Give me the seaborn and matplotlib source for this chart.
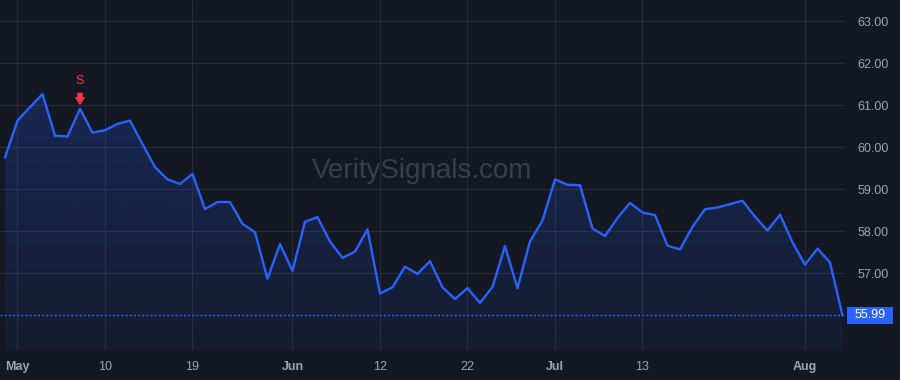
import numpy as np
import pandas as pd
import matplotlib
matplotlib.use('Agg')
import matplotlib.pyplot as plt
import seaborn as sns
from matplotlib.patches import Polygon, Rectangle
from matplotlib.colors import to_rgb

# trading days, Apr 28 - Aug 4 2023 (US market holidays skipped)
dates = pd.bdate_range("2023-04-28", "2023-08-04", freq="C",
                       holidays=["2023-05-29", "2023-06-19", "2023-07-04"])

close = [59.75, 60.63, 60.95, 61.26, 60.27, 60.25, 60.91, 60.34, 60.40, 60.55,
         60.63, 60.07, 59.52, 59.23, 59.12, 59.36, 58.52, 58.69, 58.69, 58.17,
         57.97, 56.86, 57.69, 57.05, 58.22, 58.33, 57.75, 57.36, 57.51, 58.04,
         56.51, 56.66, 57.15, 56.98, 57.28, 56.66, 56.38, 56.64, 56.29, 56.67,
         57.64, 56.64, 57.75, 58.25, 59.23, 59.10, 59.09, 58.06, 57.88, 58.31,
         58.67, 58.44, 58.38, 57.65, 57.56, 58.10, 58.52, 58.56, 58.64, 58.72,
         58.34, 58.01, 58.39, 57.73, 57.20, 57.58, 57.25, 55.99]

tick_dates = ["2023-05-01", "2023-05-10", "2023-05-19", "2023-06-01", "2023-06-12",
              "2023-06-22", "2023-07-03", "2023-07-13", "2023-08-01"]
tick_labels = ["May", "10", "19", "Jun", "12", "22", "Jul", "13", "Aug"]
price_ticks = [57, 58, 59, 60, 61, 62, 63]

signal_date = "2023-05-08"
signal_text = "S"

BG = '#141823'
GRID = '#272b37'
LINE = '#2962ff'
TXT = '#a0a3ab'
RED = '#f23645'

df = pd.DataFrame({'idx': np.arange(len(dates)), 'date': dates, 'close': close})

sns.set_style('dark', {'axes.facecolor': BG, 'figure.facecolor': BG})
plt.rcParams['font.family'] = ['Liberation Sans', 'DejaVu Sans']

fig = plt.figure(figsize=(9, 3.8), dpi=100)
ax = fig.add_axes([0, 30 / 380, 845 / 900, 350 / 380])
ax.set_facecolor(BG)

ymin, ymax = 55.167, 63.5
ax.set_ylim(ymin, ymax)
ax.set_xlim(-0.4, 67.2)

# gradient area under the line
verts = [(df['idx'].iloc[0], ymin)] + list(zip(df['idx'], df['close'])) + [(df['idx'].iloc[-1], ymin)]
poly = Polygon(verts, closed=True, facecolor='none', edgecolor='none')
ax.add_patch(poly)
r, g, b = to_rgb(LINE)
grad = np.zeros((100, 1, 4))
grad[:, 0, 0], grad[:, 0, 1], grad[:, 0, 2] = r, g, b
grad[:, 0, 3] = np.linspace(0.22, 0.06, 100)
im = ax.imshow(grad, aspect='auto', origin='upper',
               extent=[df['idx'].iloc[0], df['idx'].iloc[-1], ymin, max(close)],
               zorder=1)
im.set_clip_path(poly)

sns.lineplot(data=df, x='idx', y='close', color=LINE, linewidth=1.7, ax=ax, zorder=3)

last = close[-1]
ax.axhline(last, color=LINE, linestyle=(0, (1.5, 1.5)), linewidth=1, zorder=2)

# grid
tick_pos = [int(df.index[df['date'] == pd.Timestamp(d)][0]) for d in tick_dates]
for p in tick_pos:
    ax.axvline(p, color=GRID, linewidth=0.8, zorder=0)
for v in price_ticks:
    ax.axhline(v, color=GRID, linewidth=0.8, zorder=0)

ax.set_xticks(tick_pos)
ax.set_xticklabels(tick_labels)
for lab, txt in zip(ax.get_xticklabels(), tick_labels):
    lab.set_fontweight('normal' if txt.isdigit() else 'bold')
ax.yaxis.tick_right()
ax.set_yticks(price_ticks)
ax.set_yticklabels([f"{v:.2f}" for v in price_ticks])
ax.tick_params(axis='both', length=0, colors=TXT, labelsize=9)
ax.tick_params(axis='y', pad=9)
ax.tick_params(axis='x', pad=8)
ax.set_xlabel('')
ax.set_ylabel('')
ax.grid(False)
for s in ax.spines.values():
    s.set_visible(False)

# last price tag
ax.add_patch(Rectangle((1.002, last - 0.2), 0.055, 0.4, transform=ax.get_yaxis_transform(),
                       facecolor=LINE, edgecolor='none', clip_on=False, zorder=5))
ax.text(1.0295, last, f"{last:.2f}", transform=ax.get_yaxis_transform(), ha='center', va='center',
        color='white', fontsize=9, zorder=6, clip_on=False)

# sell signal marker
si = int(df.index[df['date'] == pd.Timestamp(signal_date)][0])
sv = close[si]
ax.annotate('', xy=(si, sv), xytext=(0, 11), textcoords='offset points',
            arrowprops=dict(arrowstyle='simple,head_length=0.45,head_width=0.6,tail_width=0.3',
                            color=RED, shrinkA=0, shrinkB=3.5), zorder=6)
ax.annotate(signal_text, xy=(si, sv), xytext=(0, 16), textcoords='offset points',
            ha='center', va='bottom', color=RED, fontsize=9, zorder=6)

# watermark
ax.text(0.5, 0.51, "VeritySignals.com", transform=ax.transAxes, ha='center', va='center',
        color='#3a3e4a', fontsize=20, zorder=0.5)

fig.savefig('out.png', dpi=100, facecolor=BG)
